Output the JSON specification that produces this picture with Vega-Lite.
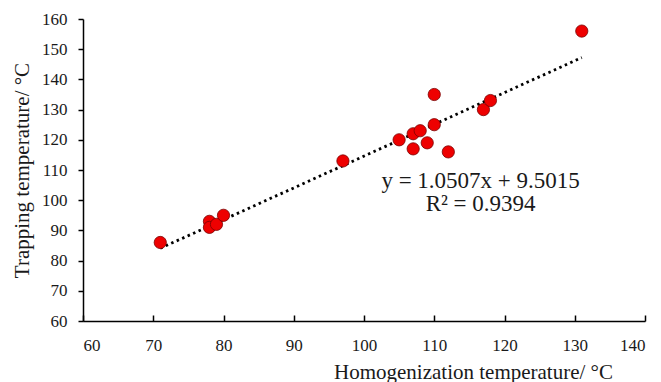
{
  "$schema": "https://vega.github.io/schema/vega-lite/v6.json",
  "autosize": {"type": "none"},
  "width": 562,
  "height": 302,
  "padding": {"left": 83, "top": 19, "right": 16, "bottom": 61},
  "background": "white",
  "config": {
    "view": {"stroke": null},
    "font": "Liberation Serif",
    "axis": {
      "grid": false,
      "domainColor": "black",
      "domainWidth": 1.5,
      "tickColor": "black",
      "tickWidth": 1.5,
      "labelColor": "#1a1a1a",
      "labelFont": "Liberation Serif",
      "labelFontSize": 17,
      "labelOverlap": false,
      "titleFont": "Liberation Serif",
      "titleFontSize": 21,
      "titleFontWeight": "normal",
      "titleColor": "#1a1a1a"
    }
  },
  "datasets": {
    "points": [
      {"h": 71, "t": 86},
      {"h": 78, "t": 93},
      {"h": 78, "t": 91},
      {"h": 79, "t": 92},
      {"h": 80, "t": 95},
      {"h": 97, "t": 113},
      {"h": 105, "t": 120},
      {"h": 107, "t": 122},
      {"h": 108, "t": 123},
      {"h": 107, "t": 117},
      {"h": 109, "t": 119},
      {"h": 110, "t": 125},
      {"h": 110, "t": 135},
      {"h": 112, "t": 116},
      {"h": 117, "t": 130},
      {"h": 118, "t": 133},
      {"h": 131, "t": 156}
    ],
    "labels": [
      {"h": 116.6, "t": 106.5, "text": "y = 1.0507x + 9.5015"},
      {"h": 116.6, "t": 98.7, "text": "R² = 0.9394"}
    ]
  },
  "encoding": {
    "x": {
      "field": "h", "type": "quantitative",
      "scale": {"domain": [60, 140], "nice": false, "zero": false},
      "axis": {
        "values": [60, 70, 80, 90, 100, 110, 120, 130, 140],
        "labelFont": "Liberation Serif",
        "labelFontSize": 17,
        "labelOverlap": false,
        "tickSize": -6,
        "labelPadding": 22,
        "title": "Homogenization temperature/ °C",
        "titleX": 390,
        "titleY": 57,
        "titleAlign": "center",
        "titleBaseline": "alphabetic",
        "titleAnchor": null
      }
    },
    "y": {
      "field": "t", "type": "quantitative",
      "scale": {"domain": [60, 160], "nice": false, "zero": false},
      "axis": {
        "values": [60, 70, 80, 90, 100, 110, 120, 130, 140, 150, 160],
        "labelFont": "Liberation Serif",
        "labelFontSize": 17,
        "labelOverlap": false,
        "tickSize": 5,
        "labelPadding": 11,
        "title": "Trapping temperature/ °C",
        "titleX": -61,
        "titleY": 151,
        "titleAngle": -90,
        "titleAlign": "center",
        "titleBaseline": "middle"
      }
    }
  },
  "layer": [
    {
      "data": {"name": "points"},
      "transform": [
        {"regression": "t", "on": "h", "method": "linear", "extent": [71, 131]}
      ],
      "mark": {"type": "line", "color": "black", "strokeWidth": 2.8, "strokeDash": [2.5, 3.5]}
    },
    {
      "data": {"name": "points"},
      "mark": {"type": "point", "shape": "circle", "filled": true, "fill": "#ee0000", "stroke": "#7a0000", "strokeWidth": 0.8, "size": 150, "opacity": 1}
    },
    {
      "data": {"name": "labels"},
      "mark": {"type": "text", "font": "Liberation Serif", "fontSize": 23, "color": "#1a1a1a", "align": "center", "baseline": "middle"},
      "encoding": {
        "text": {"field": "text"}
      }
    }
  ]
}
